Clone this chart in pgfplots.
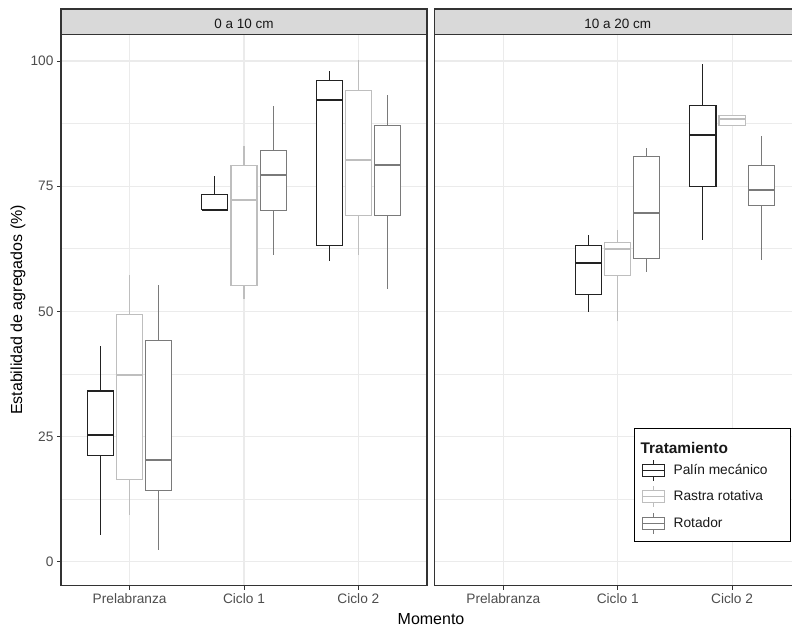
\documentclass[border=0pt]{standalone}
\usepackage{fontspec}
\setmainfont{Liberation Sans}
\usepackage{pgfplots}
\pgfplotsset{compat=1.18}
\usepgfplotslibrary{statistics}
\definecolor{gTwenty}{HTML}{333333}
\definecolor{gThirty}{HTML}{4D4D4D}
\definecolor{gStrip}{HTML}{D9D9D9}
\definecolor{gGrid}{HTML}{EBEBEB}
\definecolor{cPalin}{HTML}{222222}
\definecolor{cRastra}{HTML}{BEBEBE}
\definecolor{cRotador}{HTML}{7A7A7A}
\tikzset{strip/.style={draw=gTwenty, line width=1.1pt, fill=gStrip}}
\pgfplotsset{
  bxp/.style n args={6}{boxplot prepared={draw position=#1, lower whisker=#2,
      lower quartile=#3, median=#4, upper quartile=#5, upper whisker=#6,
      box extend=0.228, whisker extend=0, draw direction=y}, forget plot},
  palin/.style={draw=cPalin, line width=1.1pt, solid},
  rastra/.style={draw=cRastra, line width=1.1pt, solid},
  rotador/.style={draw=cRotador, line width=1.1pt, solid},
  bxglyph/.style={legend image code/.code={
    \draw[draw=#1, line width=1.1pt, fill=white] (0pt,-6pt) rectangle (22pt,6pt);
    \draw[draw=#1, line width=1.1pt] (0pt,0pt) -- (22pt,0pt);
    \draw[draw=#1, line width=1.1pt] (11pt,6pt) -- (11pt,10.5pt) (11pt,-6pt) -- (11pt,-10.5pt);}},
  common/.style={
    scale only axis, width=366pt, height=551.4pt,
    xmin=0.4, xmax=3.6, ymin=-4.79, ymax=105.33,
    xtick={1,2,3}, xticklabels={Prelabranza,Ciclo 1,Ciclo 2},
    ytick={0,25,50,75,100}, minor ytick={12.5,37.5,62.5,87.5},
    xmajorgrids, ymajorgrids, yminorgrids,
    major grid style={color=gGrid, line width=1.1pt},
    minor grid style={color=gGrid, line width=0.7pt},
    minor tick length=0pt, major tick length=4pt, tick align=outside,
    tick pos=left,
    tick style={color=gTwenty, line width=0.9pt},
    axis line style={color=gTwenty, line width=1.2pt},
    tick label style={font=\fontsize{13.7}{14}\selectfont, color=gThirty},
    /pgf/number format/assume math mode=true,
    clip=false,
    boxplot/draw direction=y,
    boxplot/every box/.style={fill=white},
    boxplot/every median/.style={line width=2.1pt},
  },
}
\begin{document}
\begin{tikzpicture}
\useasboundingbox (0pt,0pt) rectangle (792pt,-627pt);
% ---------- left panel ----------
\begin{axis}[common, at={(61pt,-585.7pt)}, anchor=south west,
  xlabel={Momento}, ylabel={Estabilidad de agregados (\%)},
  xlabel style={at={(axis description cs:1.011,-0.0613)}, anchor=center, font=\fontsize{16}{18}\selectfont},
  ylabel style={at={(axis description cs:-0.1175,0.5)}, anchor=center, font=\fontsize{16}{18}\selectfont},
]
% Prelabranza
\addplot[palin,   bxp={0.745}{5.3}{21.2}{25.3}{34.1}{43.1}] coordinates {};
\addplot[rastra,  bxp={1.000}{9.4}{16.4}{37.3}{49.3}{57.3}] coordinates {};
\addplot[rotador, bxp={1.255}{2.3}{14.2}{20.4}{44.1}{55.2}] coordinates {};
% Ciclo 1
\addplot[palin,   bxp={1.745}{70.3}{70.3}{70.3}{73.3}{77.1}] coordinates {};
\addplot[rastra,  bxp={2.000}{52.4}{55.2}{72.3}{79.1}{83.1}] coordinates {};
\addplot[rotador, bxp={2.255}{61.3}{70.1}{77.2}{82.2}{91.1}] coordinates {};
% Ciclo 2
\addplot[palin,   bxp={2.745}{60.1}{63.1}{92.2}{96.1}{98.1}] coordinates {};
\addplot[rastra,  bxp={3.000}{61.3}{69.2}{80.2}{94.1}{100.2}] coordinates {};
\addplot[rotador, bxp={3.255}{54.4}{69.2}{79.2}{87.1}{93.2}] coordinates {};
\draw[strip] (rel axis cs:0,1) rectangle ([yshift=25.3pt]rel axis cs:1,1);
\node[font=\fontsize{13.5}{14}\selectfont, color=black!90] at ([yshift=10.8pt]rel axis cs:0.5,1) {0 a 10 cm};
\end{axis}
% ---------- right panel ----------
\begin{axis}[common, at={(434.7pt,-585.7pt)}, anchor=south west,
  yticklabels={}, ytick style={draw=none},
  legend cell align=left,
  legend style={at={(rel axis cs:0.5445,0.2854)}, anchor=north west,
    draw=black, line width=1.1pt, fill=white,
    inner xsep=7pt, inner ysep=7pt, row sep=4.5pt,
    nodes={inner sep=0pt, font=\fontsize{13.75}{14}\selectfont, color=black!90}},
]
% legend
\addlegendimage{empty legend}
\addlegendentry{\hspace*{-24pt}\raisebox{0pt}[\dimexpr\height+6pt\relax][10pt]{\fontsize{15.4}{16}\selectfont\bfseries Tratamiento}}
\addlegendimage{bxglyph=cPalin}
\addlegendentry{\hspace*{9pt}Palín mecánico\hspace*{16pt}}
\addlegendimage{bxglyph=cRastra}
\addlegendentry{\hspace*{9pt}Rastra rotativa}
\addlegendimage{bxglyph=cRotador}
\addlegendentry{\hspace*{9pt}Rotador}
% Ciclo 1
\addplot[palin,   bxp={1.745}{49.8}{53.3}{59.6}{63.2}{65.3}] coordinates {};
\addplot[rastra,  bxp={2.000}{48.1}{57.1}{62.5}{63.8}{66.3}] coordinates {};
\addplot[rotador, bxp={2.255}{57.9}{60.6}{69.6}{80.9}{82.7}] coordinates {};
% Ciclo 2
\addplot[palin,   bxp={2.745}{64.3}{75.0}{85.2}{91.2}{99.3}] coordinates {};
\addplot[rastra,  bxp={3.000}{87.1}{87.1}{88.4}{89.1}{89.1}] coordinates {};
\addplot[rotador, bxp={3.255}{60.3}{71.2}{74.3}{79.1}{85.1}] coordinates {};
\draw[strip] (rel axis cs:0,1) rectangle ([yshift=25.3pt]rel axis cs:1,1);
\node[font=\fontsize{13.5}{14}\selectfont, color=black!90] at ([yshift=10.8pt]rel axis cs:0.5,1) {10 a 20 cm};
\end{axis}
\end{tikzpicture}
\end{document}
